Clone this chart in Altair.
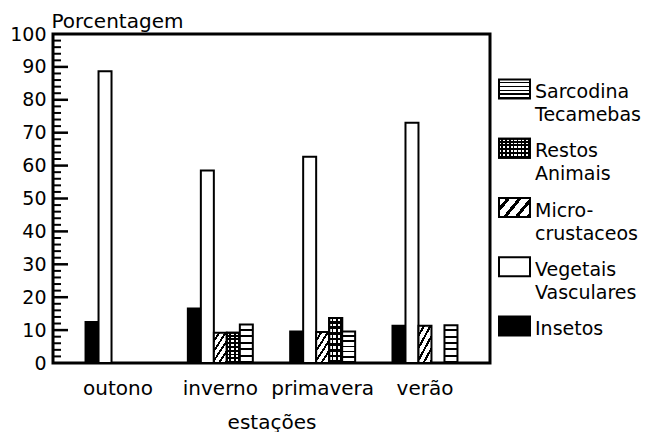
import altair as alt
import pandas as pd

# ---------------- data ----------------
seasons = ["outono", "inverno", "primavera", "verão"]
categories = ["Insetos", "Vegetais Vasculares", "Micro-crustaceos",
              "Restos Animais", "Sarcodina Tecamebas"]
insetos = [12.5, 16.6, 9.6, 11.3]
vegetais = [88.7, 58.5, 62.7, 73.0]
micro = [None, 9.2, 9.4, 11.3]
restos = [None, 9.2, 13.7, None]
sarcodina = [None, 11.7, 9.6, 11.5]

y_labels = [0, 10, 20, 30, 40, 50, 60, 70, 80, 90, 100]
major_ticks = [10, 20, 30, 40, 50, 60, 70, 80, 90]
minor_ticks = [v for v in range(2, 100, 2) if v % 10]

legend_order = ["Sarcodina Tecamebas", "Restos Animais", "Micro-crustaceos",
                "Vegetais Vasculares", "Insetos"]
legend_text = ["Sarcodina\nTecamebas", "Restos\nAnimais", "Micro-\ncrustaceos",
               "Vegetais\nVasculares", "Insetos"]

series = {
    "Insetos": insetos,
    "Vegetais Vasculares": vegetais,
    "Micro-crustaceos": micro,
    "Restos Animais": restos,
    "Sarcodina Tecamebas": sarcodina,
}
rows = []
for cat, vals in series.items():
    for s, v in zip(seasons, vals):
        if v is not None:
            rows.append({"season": s, "category": cat, "value": v})
df = pd.DataFrame(rows)
legend_df = pd.DataFrame({"item": legend_order, "label": legend_text})
major_df = pd.DataFrame({"value": major_ticks})
minor_df = pd.DataFrame({"value": minor_ticks})

FONT = "DejaVu Sans"


# ---------------- hatch fills (as hard-stop gradients) ----------------
def stripes(n, on, off, duty, x2=0.0, y2=1.0):
    stops = []
    for k in range(n):
        a = k / n
        m = (k + 1 - duty) / n
        b = (k + 1) / n
        stops += [
            {"offset": round(a, 4), "color": off},
            {"offset": round(m, 4), "color": off},
            {"offset": round(m, 4), "color": on},
            {"offset": round(b, 4), "color": on},
        ]
    return {"gradient": "linear", "x1": 0, "y1": 0, "x2": x2, "y2": y2,
            "stops": stops}


CLEAR = "rgba(0,0,0,0)"
fill_sarc = stripes(6, "black", "white", 0.32)
fill_restos_h = stripes(8, "black", "white", 0.5)
fill_restos_v = stripes(3, "black", CLEAR, 0.45, x2=1.0, y2=0.0)
fill_micro = stripes(5, "black", "white", 0.35, x2=0.75, y2=1.15)

leg_sarc = stripes(5, "black", "white", 0.35)
leg_restos_h = stripes(5, "black", "white", 0.5)
leg_restos_v = stripes(8, "black", CLEAR, 0.45, x2=1.0, y2=0.0)
leg_micro = stripes(4, "black", "white", 0.35, x2=1.2, y2=0.6)

# ---------------- main chart ----------------
x_enc = alt.X(
    "season:N",
    sort=seasons,
    scale=alt.Scale(domain=seasons, paddingInner=0.365, paddingOuter=0.318),
    axis=alt.Axis(
        title="estações", labelAngle=0, ticks=False, domain=False,
        labelFontSize=20, labelPadding=15, labelColor="black",
        labelFont=FONT, titleFont=FONT, titleFontSize=20,
        titleFontWeight="normal", titleColor="black",
        titleBaseline="alphabetic", titleAlign="center",
        titleX=218.5, titleY=65,
    ),
)
xo_enc = alt.XOffset(
    "category:N",
    scale=alt.Scale(domain=categories, paddingInner=0, paddingOuter=0),
)
y_enc = alt.Y(
    "value:Q",
    scale=alt.Scale(domain=[0, 100], nice=False),
    axis=alt.Axis(
        values=y_labels, ticks=False, domain=False, grid=False,
        labelFontSize=19, labelPadding=7, labelColor="black", labelFont=FONT,
        title="Porcentagem", titleAngle=0, titleAlign="left",
        titleBaseline="alphabetic", titleX=-2, titleY=-7,
        titleFont=FONT, titleFontSize=20, titleFontWeight="normal",
        titleColor="black",
    ),
)


def bar_layer(cat, fill):
    return (
        alt.Chart(df)
        .transform_filter(alt.datum.category == cat)
        .mark_bar(fill=fill, stroke="black", strokeWidth=2)
        .encode(x=x_enc, xOffset=xo_enc, y=y_enc)
    )


major_layer = alt.Chart(major_df).mark_rule(color="black", strokeWidth=2.5).encode(
    y=y_enc, x=alt.value(0), x2=alt.value(15)
)
minor_layer = alt.Chart(minor_df).mark_rule(color="black", strokeWidth=2).encode(
    y=y_enc, x=alt.value(0), x2=alt.value(8)
)

main = alt.layer(
    bar_layer("Insetos", "black"),
    bar_layer("Vegetais Vasculares", "white"),
    bar_layer("Micro-crustaceos", fill_micro),
    bar_layer("Restos Animais", fill_restos_h),
    bar_layer("Restos Animais", fill_restos_v),
    bar_layer("Sarcodina Tecamebas", fill_sarc),
    major_layer,
    minor_layer,
).properties(
    width=437, height=329,
    view=alt.ViewBackground(stroke="black", strokeWidth=3),
)

# ---------------- hand-drawn legend ----------------
leg_y = alt.Y(
    "item:N",
    scale=alt.Scale(type="point", domain=legend_order, range=[55, 292],
                    padding=0),
    axis=None,
)


def swatch(item, fill):
    return (
        alt.Chart(legend_df)
        .transform_filter(alt.datum.item == item)
        .mark_bar(fill=fill, stroke="black", strokeWidth=2, height=19)
        .encode(y=leg_y, x=alt.value(6), x2=alt.value(37))
    )


leg_text = alt.Chart(legend_df).mark_text(
    align="left", baseline="alphabetic", dy=9, fontSize=19, font=FONT,
    lineBreak="\n", lineHeight=23, color="black",
).encode(y=leg_y, x=alt.value(42), text="label:N")

legend = alt.layer(
    swatch("Sarcodina Tecamebas", leg_sarc),
    swatch("Restos Animais", leg_restos_h),
    swatch("Restos Animais", leg_restos_v),
    swatch("Micro-crustaceos", leg_micro),
    swatch("Vegetais Vasculares", "white"),
    swatch("Insetos", "black"),
    leg_text,
).properties(
    width=148, height=329,
    view=alt.ViewBackground(stroke="transparent"),
)

chart = alt.hconcat(main, legend, spacing=0).properties(
    padding={"left": 0, "top": 1, "right": 0, "bottom": 0},
    background="white",
).configure(font=FONT)

chart.save("out.html", embed_options={"renderer": "svg", "actions": False})
